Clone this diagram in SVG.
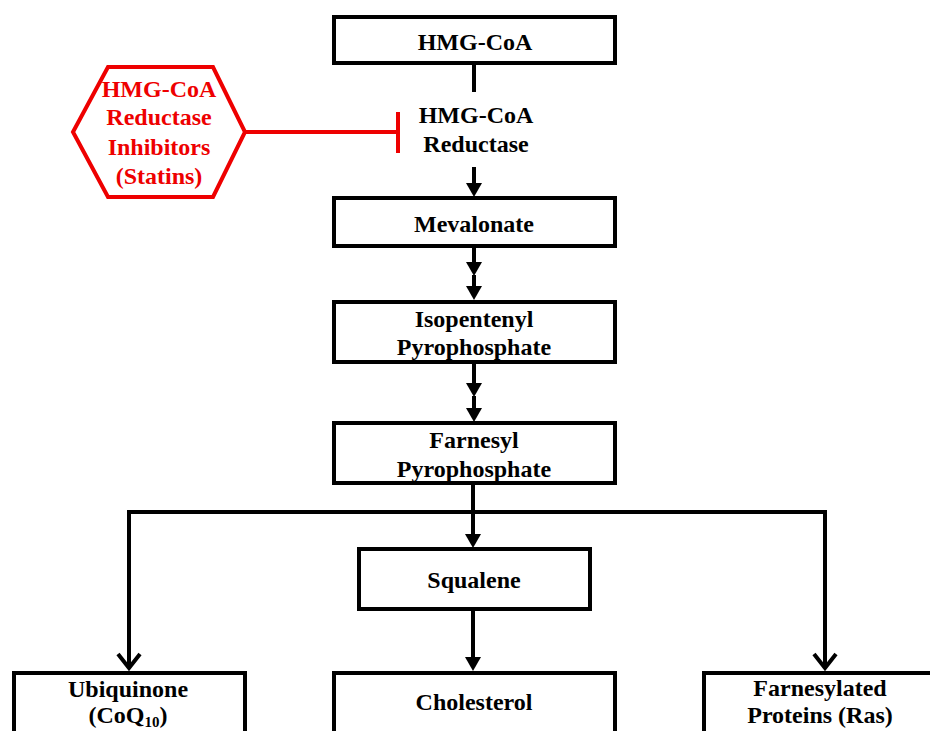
<svg xmlns="http://www.w3.org/2000/svg" width="930" height="731" viewBox="0 0 930 731">
  <style>
    .box { fill: #fff; stroke: #000; stroke-width: 4; }
    .t { font-family: "Liberation Serif", "Times New Roman", serif; font-weight: bold; font-size: 24px; fill: #000; text-anchor: middle; }
    .rt { fill: #ee0000; }
    .ln { stroke: #000; stroke-width: 4; fill: none; }
    .fa { marker-end: url(#fa); }
    .va { marker-end: url(#va); }
    .red { stroke: #ee0000; stroke-width: 4; fill: none; }
  </style>
  <defs>
    <marker id="fa" markerUnits="userSpaceOnUse" markerWidth="14" markerHeight="16" viewBox="0 0 14 16" refX="0" refY="8" orient="auto" overflow="visible">
      <path d="M0,0 L14,8 L0,16 Z" fill="#000"/>
    </marker>
    <marker id="va" markerUnits="userSpaceOnUse" markerWidth="18" markerHeight="26" viewBox="-2 -13 18 26" refX="14" refY="0" orient="auto" overflow="visible">
      <path d="M0,-11 L14,0 L0,11" fill="none" stroke="#000" stroke-width="4"/>
    </marker>
  </defs>

  <g id="connectors">
    <line class="ln" x1="474" y1="65" x2="474" y2="92"/>
    <line class="ln fa" x1="474" y1="167" x2="474" y2="183"/>
    <line class="ln fa" x1="474" y1="248" x2="474" y2="262"/>
    <line class="ln fa" x1="474" y1="275" x2="474" y2="286"/>
    <line class="ln fa" x1="474" y1="364" x2="474" y2="383"/>
    <line class="ln fa" x1="474" y1="396" x2="474" y2="408"/>
    <line class="ln fa" x1="473" y1="485" x2="473" y2="534"/>
    <path class="ln va" d="M473,512 H129 V668"/>
    <path class="ln va" d="M473,512 H825 V668"/>
    <line class="ln fa" x1="473" y1="611" x2="473" y2="657"/>
    <line class="red" x1="245" y1="132" x2="398" y2="132"/>
    <line class="red" x1="398" y1="112" x2="398" y2="153"/>
  </g>

  <g id="hmgcoa">
    <rect class="box" x="334" y="17" width="281" height="46"/>
    <text class="t" x="475" y="50">HMG-CoA</text>
  </g>
  <g id="reductase">
    <text class="t" x="476" y="123">HMG-CoA</text>
    <text class="t" x="476" y="152">Reductase</text>
  </g>
  <g id="statins">
    <polygon class="red" points="73,132 108,67 213,67 245,132 213,197 108,197"/>
    <text class="t rt" x="159" y="97">HMG-CoA</text>
    <text class="t rt" x="159" y="125">Reductase</text>
    <text class="t rt" x="159" y="155">Inhibitors</text>
    <text class="t rt" x="159" y="184">(Statins)</text>
  </g>
  <g id="mevalonate">
    <rect class="box" x="334" y="198" width="281" height="48"/>
    <text class="t" x="474" y="232">Mevalonate</text>
  </g>
  <g id="ipp">
    <rect class="box" x="334" y="302" width="281" height="60"/>
    <text class="t" x="474" y="327">Isopentenyl</text>
    <text class="t" x="474" y="355">Pyrophosphate</text>
  </g>
  <g id="fpp">
    <rect class="box" x="334" y="423" width="281" height="60"/>
    <text class="t" x="474" y="448">Farnesyl</text>
    <text class="t" x="474" y="477">Pyrophosphate</text>
  </g>
  <g id="squalene">
    <rect class="box" x="359" y="549" width="231" height="60"/>
    <text class="t" x="474" y="588">Squalene</text>
  </g>
  <g id="ubiquinone">
    <rect class="box" x="14" y="673" width="231" height="80"/>
    <text class="t" x="128" y="697">Ubiquinone</text>
    <text class="t" x="128" y="723">(CoQ<tspan font-size="15" dy="4">10</tspan><tspan dy="-4">)</tspan></text>
  </g>
  <g id="cholesterol">
    <rect class="box" x="334" y="673" width="281" height="80"/>
    <text class="t" x="474" y="710">Cholesterol</text>
  </g>
  <g id="farnesylated">
    <rect class="box" x="704" y="673" width="250" height="80"/>
    <text class="t" x="820" y="696">Farnesylated</text>
    <text class="t" x="820" y="723">Proteins (Ras)</text>
  </g>
</svg>
